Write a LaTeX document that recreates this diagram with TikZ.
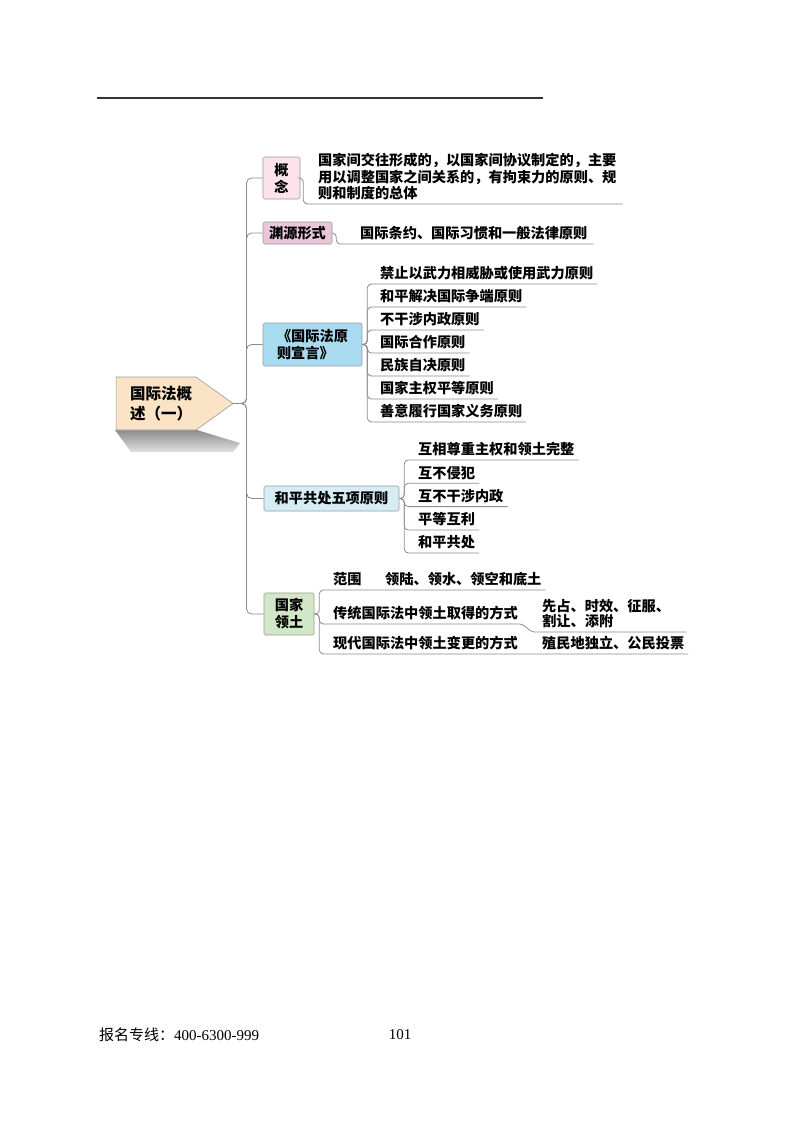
\documentclass[tikz,border=0pt]{standalone}
\usepackage{fontspec}
\setmainfont{Noto Sans CJK SC}
\newfontfamily\numfont{Liberation Serif}
\usepackage{tikz}
\usetikzlibrary{shapes.symbols}
\usetikzlibrary{calc}

\definecolor{linec}{HTML}{8C8C8C}
\definecolor{boxline}{HTML}{9A9A9A}
\definecolor{rootfill}{HTML}{FBE3C6}
\definecolor{pinkA}{HTML}{FCE2EA}
\definecolor{pinkB}{HTML}{EAC6DA}
\definecolor{blueA}{HTML}{A8DBF0}
\definecolor{blueB}{HTML}{D6EDF6}
\definecolor{greenA}{HTML}{D2E7C8}

\tikzset{
  catbox/.style={draw=boxline, line width=0.6pt, rounded corners=1.5pt, inner sep=0pt, align=center, font=\fontsize{14.2}{17}\selectfont\bfseries},
  leaf/.style={anchor=south west, inner xsep=4pt, inner ysep=2pt, text height=11pt, text depth=3pt, font=\fontsize{14.2}{16.5}\selectfont\bfseries},
  note/.style={anchor=south west, inner xsep=4pt, inner ysep=3.5pt, align=left, font=\fontsize{14.2}{16.5}\selectfont\bfseries},
  branch/.style={draw=linec, line width=0.8pt, rounded corners=5pt},
  twig/.style={draw=linec, line width=0.8pt, rounded corners=4pt},
}
\newcommand{\rootline}[1]{\makebox[62pt][l]{\hspace*{5pt}#1}}

\begin{document}
\begin{tikzpicture}[x=1pt,y=-1pt]
\useasboundingbox (0,0) rectangle (800,1124);

%header rule
\draw[line width=1.2pt, black!80] (97,98) -- (543,98);

%root
\shade[top color=black!45, bottom color=black!12] (115,430) -- (197,430) -- (240,443) -- (233,452) -- (131,452) -- cycle;
\node[draw=boxline, line width=0.6pt, fill=rootfill, signal, signal to=east, signal pointer angle=71, minimum width=117pt, minimum height=53pt, inner sep=0pt, align=left, font=\fontsize{15.5}{20}\selectfont\bfseries] (gjf) at (156,403.5) {\rootline{国际法概}\\\rootline{述（一）}};

%gainian
\node[catbox, fill=pinkA, minimum width=37pt, minimum height=42pt] (gainian) at (281.5,178) {概\\念};
\node[note, inner xsep=6pt] (gdef) at (312,204) {国家间交往形成的，以国家间协议制定的，主要\\用以调整国家之间关系的，有拘束力的原则、规\\则和制度的总体};
\draw[branch] (gjf.east) -- ++(13,0) |- (gainian.west);
\draw[twig] (gainian.east) -- ++(3,0) |- (gdef.south west) -- (gdef.south east);

%yuanyuan
\node[catbox, fill=pinkB, minimum width=69pt, minimum height=22pt] (yuanyuan) at (297.5,233) {渊源形式};
\node[leaf, inner xsep=6pt] (ydef) at (354,244) {国际条约、国际习惯和一般法律原则};
\draw[branch] (gjf.east) -- ++(13,0) |- (yuanyuan.west);
\draw[twig] (yuanyuan.east) -- ++(4,0) |- (ydef.south west) -- (ydef.south east);

%xuanyan
\node[catbox, fill=blueA, minimum width=99pt, minimum height=43pt, align=left] (xuanyan) at (312.5,344.5) {《国际法原\\则宣言》};
\node[leaf] (x1) at (376,284) {禁止以武力相威胁或使用武力原则};
\node[leaf] (x2) at (376,307) {和平解决国际争端原则};
\node[leaf] (x3) at (376,330) {不干涉内政原则};
\node[leaf] (x4) at (376,353) {国际合作原则};
\node[leaf] (x5) at (376,376) {民族自决原则};
\node[leaf] (x6) at (376,399) {国家主权平等原则};
\node[leaf] (x7) at (376,422) {善意履行国家义务原则};
\draw[branch] (gjf.east) -- ++(13,0) |- (xuanyan.west);
\draw[twig] (xuanyan.east) -- ++(5,0) |- (x1.south west) -- (x1.south east);
\draw[twig] (xuanyan.east) -- ++(5,0) |- (x2.south west) -- (x2.south east);
\draw[twig] (xuanyan.east) -- ++(5,0) |- (x3.south west) -- (x3.south east);
\draw[twig] (xuanyan.east) -- ++(5,0) |- (x4.south west) -- (x4.south east);
\draw[twig] (xuanyan.east) -- ++(5,0) |- (x5.south west) -- (x5.south east);
\draw[twig] (xuanyan.east) -- ++(5,0) |- (x6.south west) -- (x6.south east);
\draw[twig] (xuanyan.east) -- ++(5,0) |- (x7.south west) -- (x7.south east);

%heping
\node[catbox, fill=blueB, minimum width=135pt, minimum height=25pt] (heping) at (331.5,498.5) {和平共处五项原则};
\node[leaf] (h1) at (414,460) {互相尊重主权和领土完整};
\node[leaf] (h2) at (414,483.3) {互不侵犯};
\node[leaf] (h3) at (414,506.6) {互不干涉内政};
\node[leaf] (h4) at (414,530) {平等互利};
\node[leaf] (h5) at (414,553) {和平共处};
\draw[branch] (gjf.east) -- ++(13,0) |- (heping.west);
\draw[twig] (heping.east) -- ++(5,0) |- (h1.south west) -- (h1.south east);
\draw[twig] (heping.east) -- ++(5,0) |- (h2.south west) -- (h2.south east);
\draw[twig] (heping.east) -- ++(5,0) |- (h3.south west) -- (h3.south east);
\draw[twig] (heping.east) -- ++(5,0) |- (h4.south west) -- (h4.south east);
\draw[twig] (heping.east) -- ++(5,0) |- (h5.south west) -- (h5.south east);

%lingtu
\node[catbox, fill=greenA, minimum width=50pt, minimum height=42pt] (lingtu) at (289,614) {国家\\领土};
\node[leaf] (fanwei) at (329,590) {范围};
\node[leaf] (lu) at (381,590) {领陆、领水、领空和底土};
\node[leaf] (chuantong) at (329,624) {传统国际法中领土取得的方式};
\node[note, text width=140pt, font=\fontsize{14.2}{15}\selectfont\bfseries] (xianzhan) at (538,632) {先占、时效、征服、\\割让、添附};
\node[leaf] (xiandai) at (329,654) {现代国际法中领土变更的方式};
\node[leaf] (zhimin) at (538,654) {殖民地独立、公民投票};
\draw[branch] (gjf.east) -- ++(13,0) |- (lingtu.west);
\draw[twig] (lingtu.east) -- ++(5,0) |- (fanwei.south west) -- (fanwei.south east) -- (lu.south west) -- (lu.south east);
\draw[twig] (lingtu.east) -- ++(5,0) |- (chuantong.south west) -- ([xshift=-6pt]chuantong.south east) to[out=0,in=180] (xianzhan.south west) -- (xianzhan.south east);
\draw[twig] (lingtu.east) -- ++(5,0) |- (xiandai.south west) -- (xiandai.south east) -- (zhimin.south west) -- (zhimin.south east);

%footer
\node[anchor=west, inner sep=0pt, font=\fontsize{15}{18}\selectfont] (hotline) at (99,1035) {报名专线：{\numfont 400-6300-999}};
\node[inner sep=0pt, font=\numfont\fontsize{15}{18}\selectfont] (pageno) at (400,1035) {101};

\end{tikzpicture}
\end{document}
